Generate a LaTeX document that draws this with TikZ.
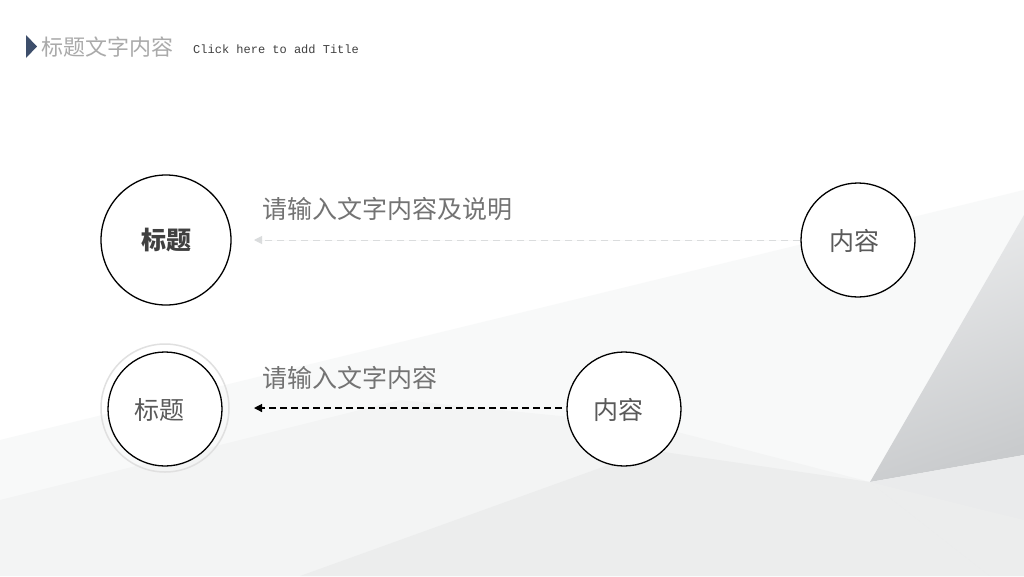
\documentclass[tikz,border=0pt]{standalone}
\usepackage{fontspec}
\setmainfont{Liberation Serif}
\newfontfamily\cjk{Noto Sans CJK SC}
\newfontfamily\mono{Liberation Mono}
\usetikzlibrary{arrows.meta}
\definecolor{titleblue}{HTML}{3D4E6B}
\definecolor{titlegray}{HTML}{AAAAAA}
\definecolor{txtgray}{HTML}{5A5A5A}
\definecolor{lightdash}{HTML}{DADCDD}
\definecolor{bgA}{HTML}{F8F9F9}
\definecolor{bgB}{HTML}{F3F4F4}
\definecolor{bgC}{HTML}{ECEDED}
\definecolor{bgD}{HTML}{C9CBCD}
\definecolor{bgE}{HTML}{EAEBEC}
\begin{document}
\begin{tikzpicture}[x=1pt,y=-1pt,
  ring/.style={circle,draw=black,line width=1.3pt,inner sep=0pt,fill=white},
  cn/.style={font=\cjk\fontsize{25}{25}\selectfont,text=txtgray},
  lbl/.style={font=\cjk\fontsize{25}{25}\selectfont,text=txtgray!85,anchor=west},
  tip/.style={-{Triangle[length=8pt,width=8pt]}}]
\useasboundingbox (0,0) rectangle (1024,576);
\fill[white] (0,0) rectangle (1024,576);
% background shapes
\fill[bgA] (0,440) -- (450,330) -- (1024,190) -- (1024,576) -- (0,576) -- cycle;
\fill[bgB] (0,500) -- (400,400) -- (650,425) -- (870,482) -- (990,576) -- (0,576) -- cycle;
\fill[bgC] (300,576) -- (650,450) -- (870,482) -- (990,576) -- cycle;
\shade[top color=bgE,bottom color=bgD,shading angle=20] (870,482) -- (1024,215) -- (1024,455) -- cycle;
\fill[bgE] (870,482) -- (1024,455) -- (1024,576) -- (990,576) -- cycle;
\fill[bgC] (870,482) -- (1024,520) -- (1024,576) -- (990,576) -- cycle;
% title
\fill[titleblue] (26,35) -- (37,46.5) -- (26,58) -- cycle;
\node[anchor=west,inner sep=0pt,font=\cjk\fontsize{22}{22}\selectfont,text=titlegray] (title) at (41,47) {标题文字内容};
\node[anchor=west,inner sep=0pt,font=\mono\fontsize{12}{12}\selectfont,text=black!75] (sub) at (193,49) {Click here to add Title};
% circles
\node[ring,minimum size=130pt] (t1) at (166,240) {};
\node[cn,font=\cjk\bfseries\fontsize{25}{25}\selectfont,text=black!75] (t1t) at (166,240) {标题};
\node[ring,minimum size=114pt] (c1) at (858,240) {};
\node[cn] (c1t) at (854,241) {内容};
\node[circle,draw=black!12,line width=1.5pt,minimum size=128pt,inner sep=0pt] (t2o) at (165,408) {};
\node[ring,minimum size=114pt] (t2) at (165,409) {};
\node[cn] (t2t) at (159,410) {标题};
\node[ring,minimum size=114pt] (c2) at (624,409) {};
\node[cn] (c2t) at (618,410) {内容};
% labels
\node[lbl,inner sep=0pt] (l1) at (262,209) {请输入文字内容及说明};
\node[lbl,inner sep=0pt] (l2) at (262,378) {请输入文字内容};
% connectors
\coordinate (a1) at (254,240);
\coordinate (a2) at (254,408);
\coordinate (s2) at (562,408);
\draw[tip,draw=lightdash,fill=lightdash,line width=1pt,dash pattern=on 7pt off 5pt] (c1.west) -- (a1);
\draw[tip,draw=black,line width=1.2pt,dash pattern=on 7pt off 4pt] (s2) -- (a2);
\end{tikzpicture}
\end{document}
